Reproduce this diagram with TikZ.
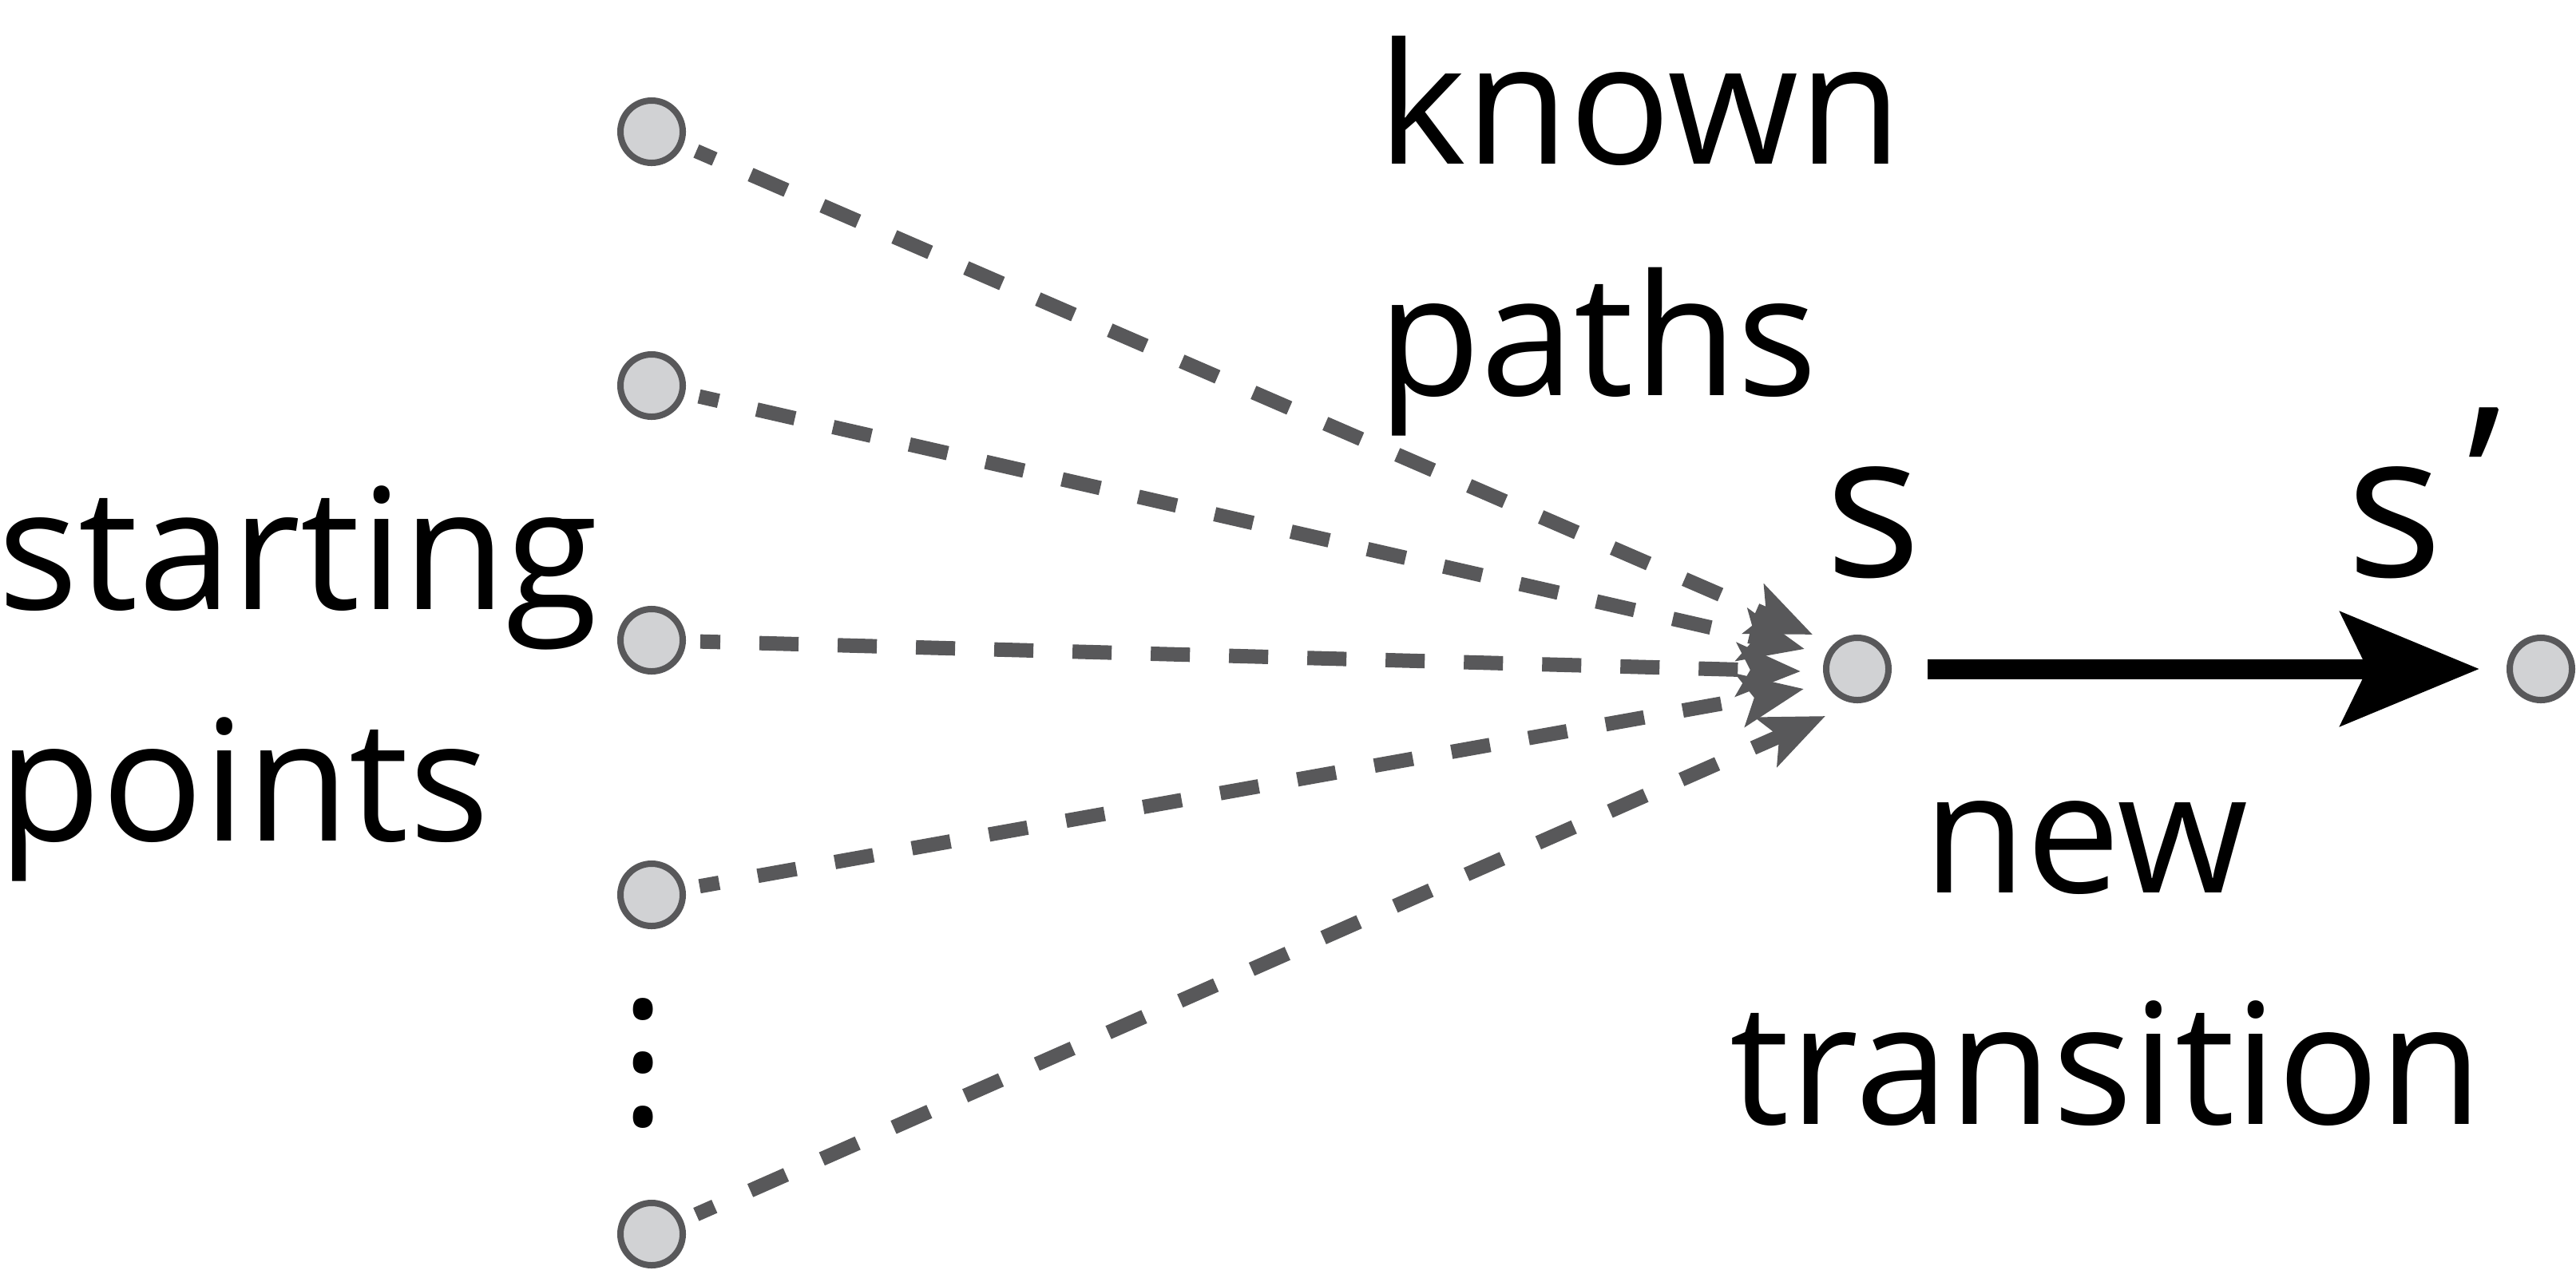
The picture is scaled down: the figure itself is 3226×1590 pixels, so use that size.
\documentclass[tikz,border=0pt]{standalone}
\usepackage{fontspec}
\setmainfont{Open Sans}
\usetikzlibrary{arrows.meta}
\definecolor{ptfill}{HTML}{D1D2D4}
\definecolor{ptline}{HTML}{58585A}
\tikzset{
  pt/.style={circle, draw=ptline, fill=ptfill, line width=0.08cm, inner sep=0pt, minimum size=0.78cm, outer sep=0.04cm},
  known/.style={draw=ptline, line width=0.18cm, dash pattern=on 0.49cm off 0.49cm, dash phase=0.24cm,
    shorten <=0.18cm, -{Stealth[length=0.8cm, width=0.66cm, inset=0.17cm]}},
  newarrow/.style={draw=black, line width=0.25cm, shorten <=0.45cm, shorten >=0.34cm,
    -{Stealth[length=1.73cm, width=1.41cm, inset=0.33cm]}},
  lbl/.style={inner sep=0pt, outer sep=0pt, font=\fontsize{60pt}{80pt}\selectfont},
  slbl/.style={inner sep=0pt, outer sep=0pt, font=\fontsize{72pt}{80pt}\selectfont},
}
\begin{document}
\begin{tikzpicture}[x=0.01cm, y=-0.01cm]
\useasboundingbox (0,0) rectangle (3226,1590);
% start points
\node[pt] (n1) at (816,165) {};
\node[pt] (n2) at (816,483) {};
\node[pt] (n3) at (816,802) {};
\node[pt] (n4) at (816,1121) {};
\node[pt] (n5) at (816,1546) {};
\node[pt] (s) at (2326,838) {};
\node[pt] (sp) at (3182,838) {};
% arrow tips of known paths
\coordinate (t1) at (2270,795);
\coordinate (t2) at (2260,813);
\coordinate (t3) at (2255,841);
\coordinate (t4) at (2259,863);
\coordinate (t5) at (2286,897);
\foreach \i in {1,...,5} { \draw[known] (n\i) -- (t\i); }
\draw[newarrow] (s) -- (sp);
% labels
\node[lbl, anchor=base west] (start1) at (-2,763) {starting};
\node[lbl, anchor=base west] (start2) at (-2,1053) {points};
\node[lbl, anchor=base west] (known1) at (1725,205) {known};
\node[lbl, anchor=base west] (known2) at (1725,495) {paths};
\node[lbl, anchor=base] (new1) at (2612,1118) {new};
\node[lbl, anchor=base] (new2) at (2638,1408) {transition};
\node[slbl, anchor=base west] (slab) at (2285,722) {s};
\node[slbl, anchor=base west] (splab) at (2938,722) {s\kern0.12em\raisebox{0.12em}{’}};
\node[inner sep=0pt, outer sep=0pt, align=center, anchor=center, font=\fontsize{60pt}{19.3pt}\selectfont] (dots) at (806,1332) {.\\.\\.};
\end{tikzpicture}
\end{document}
